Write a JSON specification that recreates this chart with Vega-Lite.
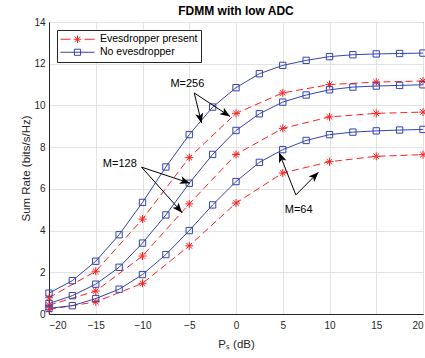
{
  "$schema": "https://vega.github.io/schema/vega-lite/v6.json",
  "width": 374,
  "height": 292,
  "autosize": {"type": "none"},
  "padding": {"left": 49, "top": 22, "right": 2, "bottom": 44},
  "title": {"text": "FDMM with low ADC", "fontSize": 12, "fontWeight": "bold", "font": "Liberation Sans", "color": "#000000", "offset": 2, "dy": 12, "baseline": "alphabetic", "anchor": "middle", "frame": "group"},
  "datasets": {
    "curves": [
      {"P": -20, "R": 1.0, "M": "256", "type": "No evesdropper"},
      {"P": -17.5, "R": 1.6, "M": "256", "type": "No evesdropper"},
      {"P": -15, "R": 2.53, "M": "256", "type": "No evesdropper"},
      {"P": -12.5, "R": 3.8, "M": "256", "type": "No evesdropper"},
      {"P": -10, "R": 5.35, "M": "256", "type": "No evesdropper"},
      {"P": -7.5, "R": 7.05, "M": "256", "type": "No evesdropper"},
      {"P": -5, "R": 8.6, "M": "256", "type": "No evesdropper"},
      {"P": -2.5, "R": 9.92, "M": "256", "type": "No evesdropper"},
      {"P": 0, "R": 10.85, "M": "256", "type": "No evesdropper"},
      {"P": 2.5, "R": 11.52, "M": "256", "type": "No evesdropper"},
      {"P": 5, "R": 11.92, "M": "256", "type": "No evesdropper"},
      {"P": 7.5, "R": 12.16, "M": "256", "type": "No evesdropper"},
      {"P": 10, "R": 12.34, "M": "256", "type": "No evesdropper"},
      {"P": 12.5, "R": 12.43, "M": "256", "type": "No evesdropper"},
      {"P": 15, "R": 12.47, "M": "256", "type": "No evesdropper"},
      {"P": 17.5, "R": 12.49, "M": "256", "type": "No evesdropper"},
      {"P": 20, "R": 12.51, "M": "256", "type": "No evesdropper"},
      {"P": -20, "R": 0.5, "M": "128", "type": "No evesdropper"},
      {"P": -17.5, "R": 0.88, "M": "128", "type": "No evesdropper"},
      {"P": -15, "R": 1.43, "M": "128", "type": "No evesdropper"},
      {"P": -12.5, "R": 2.24, "M": "128", "type": "No evesdropper"},
      {"P": -10, "R": 3.4, "M": "128", "type": "No evesdropper"},
      {"P": -7.5, "R": 4.75, "M": "128", "type": "No evesdropper"},
      {"P": -5, "R": 6.27, "M": "128", "type": "No evesdropper"},
      {"P": -2.5, "R": 7.65, "M": "128", "type": "No evesdropper"},
      {"P": 0, "R": 8.8, "M": "128", "type": "No evesdropper"},
      {"P": 2.5, "R": 9.6, "M": "128", "type": "No evesdropper"},
      {"P": 5, "R": 10.16, "M": "128", "type": "No evesdropper"},
      {"P": 7.5, "R": 10.5, "M": "128", "type": "No evesdropper"},
      {"P": 10, "R": 10.75, "M": "128", "type": "No evesdropper"},
      {"P": 12.5, "R": 10.88, "M": "128", "type": "No evesdropper"},
      {"P": 15, "R": 10.93, "M": "128", "type": "No evesdropper"},
      {"P": 17.5, "R": 10.96, "M": "128", "type": "No evesdropper"},
      {"P": 20, "R": 10.99, "M": "128", "type": "No evesdropper"},
      {"P": -20, "R": 0.27, "M": "64", "type": "No evesdropper"},
      {"P": -17.5, "R": 0.4, "M": "64", "type": "No evesdropper"},
      {"P": -15, "R": 0.74, "M": "64", "type": "No evesdropper"},
      {"P": -12.5, "R": 1.19, "M": "64", "type": "No evesdropper"},
      {"P": -10, "R": 1.89, "M": "64", "type": "No evesdropper"},
      {"P": -7.5, "R": 2.85, "M": "64", "type": "No evesdropper"},
      {"P": -5, "R": 4.0, "M": "64", "type": "No evesdropper"},
      {"P": -2.5, "R": 5.23, "M": "64", "type": "No evesdropper"},
      {"P": 0, "R": 6.35, "M": "64", "type": "No evesdropper"},
      {"P": 2.5, "R": 7.27, "M": "64", "type": "No evesdropper"},
      {"P": 5, "R": 7.88, "M": "64", "type": "No evesdropper"},
      {"P": 7.5, "R": 8.32, "M": "64", "type": "No evesdropper"},
      {"P": 10, "R": 8.6, "M": "64", "type": "No evesdropper"},
      {"P": 12.5, "R": 8.72, "M": "64", "type": "No evesdropper"},
      {"P": 15, "R": 8.78, "M": "64", "type": "No evesdropper"},
      {"P": 17.5, "R": 8.82, "M": "64", "type": "No evesdropper"},
      {"P": 20, "R": 8.85, "M": "64", "type": "No evesdropper"},
      {"P": -20, "R": 0.78, "M": "256", "type": "Evesdropper present"},
      {"P": -15, "R": 2.05, "M": "256", "type": "Evesdropper present"},
      {"P": -10, "R": 4.55, "M": "256", "type": "Evesdropper present"},
      {"P": -5, "R": 7.5, "M": "256", "type": "Evesdropper present"},
      {"P": 0, "R": 9.62, "M": "256", "type": "Evesdropper present"},
      {"P": 5, "R": 10.6, "M": "256", "type": "Evesdropper present"},
      {"P": 10, "R": 11.0, "M": "256", "type": "Evesdropper present"},
      {"P": 15, "R": 11.12, "M": "256", "type": "Evesdropper present"},
      {"P": 20, "R": 11.17, "M": "256", "type": "Evesdropper present"},
      {"P": -20, "R": 0.42, "M": "128", "type": "Evesdropper present"},
      {"P": -15, "R": 1.1, "M": "128", "type": "Evesdropper present"},
      {"P": -10, "R": 2.78, "M": "128", "type": "Evesdropper present"},
      {"P": -5, "R": 5.28, "M": "128", "type": "Evesdropper present"},
      {"P": 0, "R": 7.65, "M": "128", "type": "Evesdropper present"},
      {"P": 5, "R": 8.9, "M": "128", "type": "Evesdropper present"},
      {"P": 10, "R": 9.45, "M": "128", "type": "Evesdropper present"},
      {"P": 15, "R": 9.62, "M": "128", "type": "Evesdropper present"},
      {"P": 20, "R": 9.68, "M": "128", "type": "Evesdropper present"},
      {"P": -20, "R": 0.22, "M": "64", "type": "Evesdropper present"},
      {"P": -15, "R": 0.58, "M": "64", "type": "Evesdropper present"},
      {"P": -10, "R": 1.47, "M": "64", "type": "Evesdropper present"},
      {"P": -5, "R": 3.27, "M": "64", "type": "Evesdropper present"},
      {"P": 0, "R": 5.32, "M": "64", "type": "Evesdropper present"},
      {"P": 5, "R": 6.76, "M": "64", "type": "Evesdropper present"},
      {"P": 10, "R": 7.3, "M": "64", "type": "Evesdropper present"},
      {"P": 15, "R": 7.56, "M": "64", "type": "Evesdropper present"},
      {"P": 20, "R": 7.64, "M": "64", "type": "Evesdropper present"}
    ],
    "arrows": [
      {"P0": -4.47, "R0": 10.6, "P": -3.68, "R": 9.15},
      {"P0": -4.47, "R0": 10.6, "P": -0.64, "R": 9.47},
      {"P0": -10.1, "R0": 7.04, "P": -4.93, "R": 6.27},
      {"P0": -10.1, "R0": 7.04, "P": -5.76, "R": 4.86},
      {"P0": 6.4, "R0": 5.71, "P": 4.61, "R": 7.74},
      {"P0": 6.4, "R0": 5.71, "P": 8.82, "R": 6.8}
    ],
    "labels": [
      {"P": -5.2, "R": 11.04, "label": "M=256"},
      {"P": -12.43, "R": 7.2, "label": "M=128"},
      {"P": 6.7, "R": 4.99, "label": "M=64"}
    ]
  },
  "encoding": {
    "x": {"field": "P", "type": "quantitative", "scale": {"domain": [-20, 20], "nice": false},
      "axis": {"values": [-20, -15, -10, -5, 0, 5, 10, 15, 20], "title": "Pₛ (dB)", "labelPadding": 6, "titlePadding": 8}},
    "y": {"field": "R", "type": "quantitative", "scale": {"domain": [0, 14], "nice": false},
      "axis": {"values": [0, 2, 4, 6, 8, 10, 12, 14], "title": "Sum Rate (bits/s/Hz)", "labelPadding": 4, "titlePadding": 2}}
  },
  "layer": [
    {
      "data": {"name": "curves"},
      "transform": [{"filter": "datum.type == 'Evesdropper present'"}],
      "mark": {"type": "line", "strokeWidth": 1, "color": "#ff1f1f", "strokeDash": [7, 4]},
      "encoding": {
        "detail": {"field": "M", "type": "nominal"}
      }
    },
    {
      "data": {"name": "curves"},
      "transform": [{"filter": "datum.type == 'No evesdropper'"}],
      "mark": {"type": "line", "strokeWidth": 1, "color": "#3344b0"},
      "encoding": {
        "detail": {"field": "M", "type": "nominal"}
      }
    },
    {
      "data": {"name": "curves"},
      "transform": [{"filter": "datum.type == 'Evesdropper present'"}],
      "mark": {"type": "point", "shape": "M0,-1V1M-1,0H1M-0.7,-0.7L0.7,0.7M-0.7,0.7L0.7,-0.7", "filled": false, "size": 64, "color": "#ff1f1f", "strokeWidth": 1, "opacity": 1}
    },
    {
      "data": {"name": "curves"},
      "transform": [{"filter": "datum.type == 'No evesdropper'"}],
      "mark": {"type": "point", "shape": "square", "filled": false, "size": 40, "color": "#3344b0", "strokeWidth": 1, "opacity": 1}
    },
    {
      "data": {"name": "arrows"},
      "mark": {"type": "rule", "color": "#000000", "strokeWidth": 1},
      "encoding": {
        "x2": {"field": "P0"},
        "y2": {"field": "R0"}
      }
    },
    {
      "data": {"name": "arrows"},
      "transform": [{"calculate": "atan2((datum.P - datum.P0) * 9.35, (datum.R - datum.R0) * 20.857) * 180 / PI", "as": "angle"}],
      "mark": {"type": "point", "shape": "M0,0L-0.8,2L0,1.5L0.8,2Z", "filled": true, "size": 100, "color": "#000000", "opacity": 1, "strokeWidth": 0},
      "encoding": {
        "angle": {"field": "angle", "type": "quantitative", "scale": null}
      }
    },
    {
      "data": {"name": "labels"},
      "mark": {"type": "text", "font": "Liberation Sans", "fontSize": 11, "color": "#000000", "align": "center", "baseline": "middle"},
      "encoding": {
        "text": {"field": "label", "type": "nominal"}
      }
    },
    {
      "data": {"name": "curves"},
      "transform": [{"filter": "datum.P == 20 && datum.M == '256'"}],
      "mark": {"type": "point", "filled": false, "strokeWidth": 1, "opacity": 0},
      "encoding": {
        "shape": {"field": "type", "type": "nominal",
          "scale": {"domain": ["Evesdropper present", "No evesdropper"],
            "range": ["M-1,0H-0.42M0.42,0H1M0,-0.22V0.22M-0.22,0H0.22M-0.16,-0.16L0.16,0.16M-0.16,0.16L0.16,-0.16",
                      "M-1,0H1M-0.18,-0.18H0.18V0.18H-0.18Z"]},
          "legend": {"title": null, "orient": "top-left", "offset": 8}},
        "color": {"field": "type", "type": "nominal", "scale": {"domain": ["Evesdropper present", "No evesdropper"], "range": ["#ff1f1f", "#3344b0"]}, "legend": {"title": null, "orient": "top-left", "offset": 8}}
      }
    }
  ],
  "config": {
    "font": "Liberation Sans",
    "view": {"stroke": "#262626", "strokeWidth": 1},
    "axis": {"grid": true, "gridColor": "#e3e3e3", "ticks": false, "domainColor": "#262626", "labelColor": "#262626", "titleColor": "#262626",
      "labelFont": "Liberation Sans", "titleFont": "Liberation Sans", "labelFontSize": 10, "titleFontSize": 11.5, "titleFontWeight": "normal"},
    "legend": {"padding": 3, "fillColor": "#ffffff", "strokeColor": "#262626",
      "labelFont": "Liberation Sans", "labelFontSize": 10.5, "labelColor": "#000000", "symbolSize": 1156, "symbolStrokeWidth": 1,
      "clipHeight": 12.5, "rowPadding": 0, "labelOffset": 5, "symbolOffset": 0}
  }
}
